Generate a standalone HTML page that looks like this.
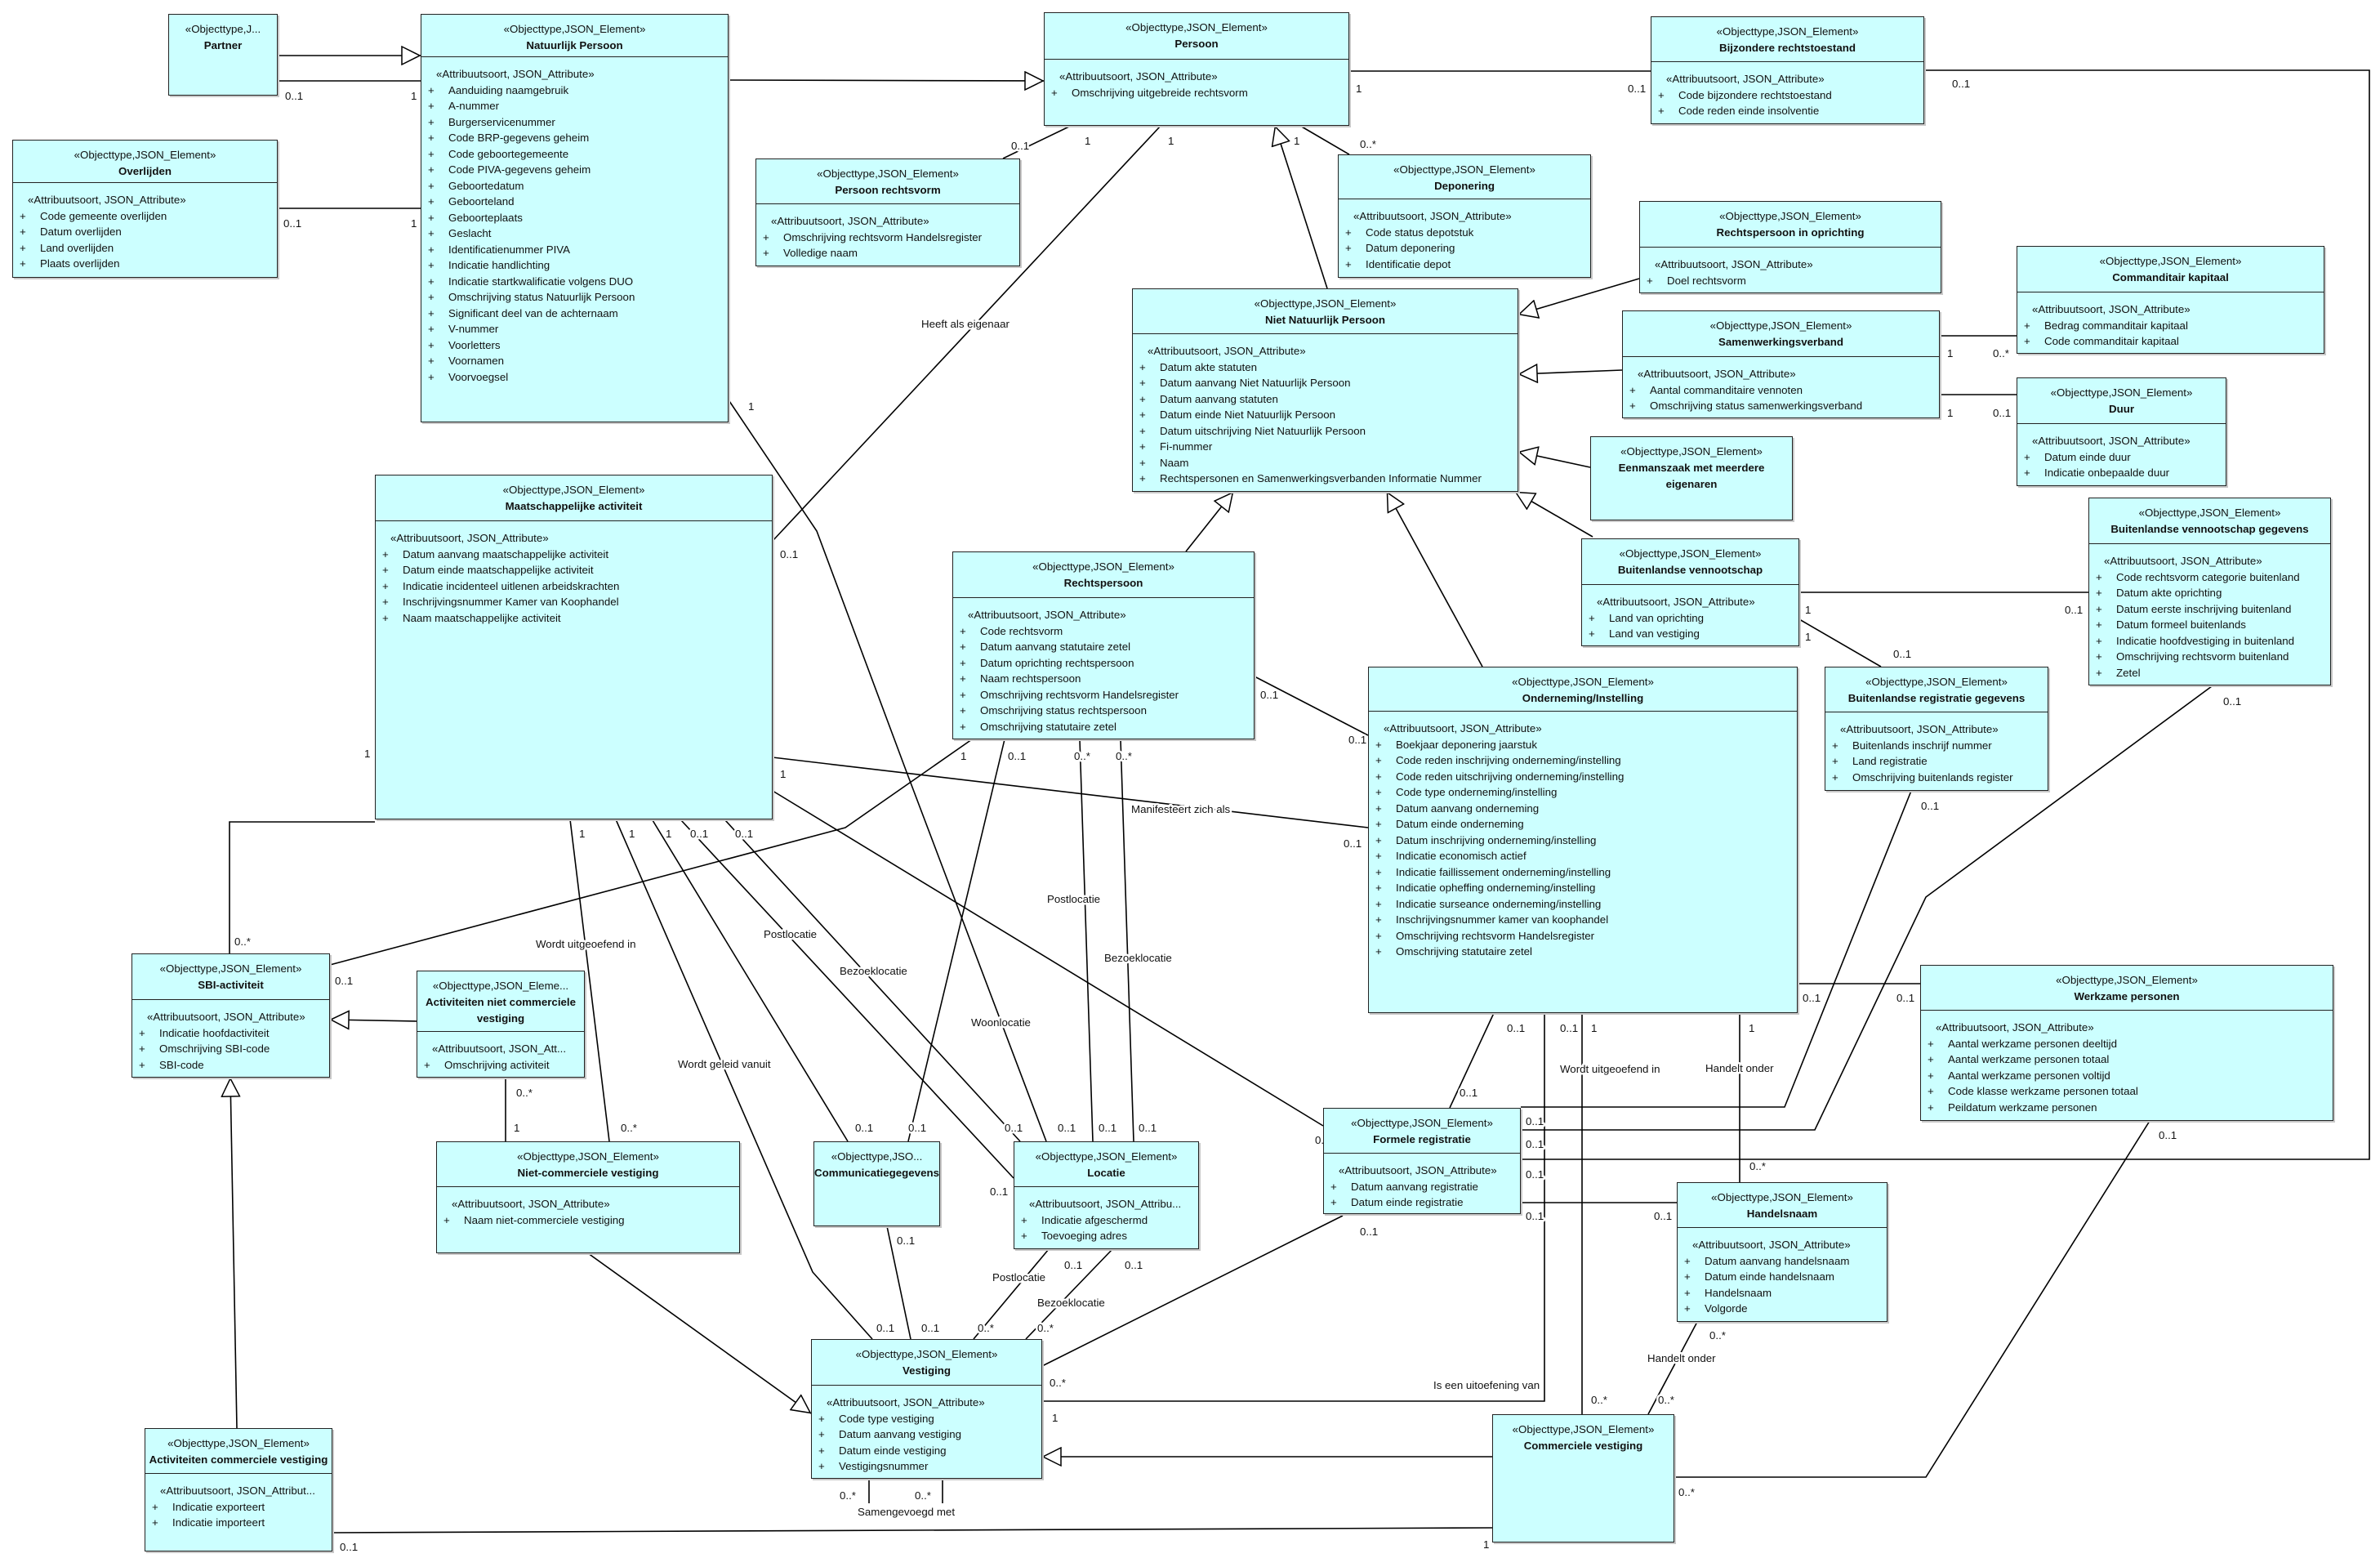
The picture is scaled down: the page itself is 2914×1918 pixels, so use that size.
<!DOCTYPE html>
<html><head><meta charset="utf-8">
<style>
body{margin:0;background:#fff;}
#c{position:relative;width:2914px;height:1918px;overflow:hidden;background:#fff;font-family:"Liberation Sans",sans-serif;font-size:13.3px;color:#111;}
svg{position:absolute;left:0;top:0;}
.b{position:absolute;background:#ccffff;border:1.5px solid #222;box-sizing:border-box;box-shadow:2px 2px 0 #c8c8c8;overflow:hidden;}
.h{border-bottom:1.5px solid #222;box-sizing:border-box;text-align:center;padding-top:8px;line-height:20px;white-space:nowrap;}
.h.nb{border-bottom:none;}
.n{font-weight:bold;}
.a{padding-top:11px;line-height:19.5px;white-space:nowrap;}
.s{padding-left:18px;}
.r{padding-left:33px;position:relative;}
.r:before{content:"+";position:absolute;left:8px;}
svg text{paint-order:stroke;stroke:#fff;stroke-width:5px;stroke-linejoin:round;}
</style></head><body><div id="c">
<svg width="2914" height="1918" viewBox="0 0 2914 1918">
<defs><marker id="g" viewBox="0 0 24 24" refX="24" refY="12" markerWidth="24" markerHeight="24" markerUnits="userSpaceOnUse" orient="auto"><path d="M1,1 L23,12 L1,23 z" fill="#fff" stroke="#000" stroke-width="1.5"/></marker></defs>
<g fill="none" stroke="#000" stroke-width="1.6">
<line x1="340" y1="68" x2="515" y2="68" marker-end="url(#g)"/>
<line x1="892" y1="98" x2="1278" y2="99" marker-end="url(#g)"/>
<line x1="1625" y1="353" x2="1561" y2="154" marker-end="url(#g)"/>
<line x1="2007" y1="341" x2="1859" y2="385" marker-end="url(#g)"/>
<line x1="1986" y1="453" x2="1859" y2="458" marker-end="url(#g)"/>
<line x1="1947" y1="572" x2="1859" y2="553" marker-end="url(#g)"/>
<line x1="1950" y1="657" x2="1855" y2="602" marker-end="url(#g)"/>
<line x1="1452" y1="675" x2="1510" y2="602" marker-end="url(#g)"/>
<line x1="1815" y1="816" x2="1698" y2="602" marker-end="url(#g)"/>
<line x1="720" y1="1534" x2="993" y2="1730" marker-end="url(#g)"/>
<line x1="290" y1="1748" x2="282" y2="1319" marker-end="url(#g)"/>
<line x1="510" y1="1250" x2="404" y2="1248" marker-end="url(#g)"/>
<line x1="1827" y1="1783" x2="1276" y2="1783" marker-end="url(#g)"/>
<line x1="340" y1="99" x2="515" y2="99"/>
<line x1="340" y1="255" x2="515" y2="255"/>
<line x1="1652" y1="87" x2="2021" y2="87"/>
<polyline points="2356,86 2901,86 2901,1419 1862,1419"/>
<line x1="1311" y1="154" x2="1228" y2="194"/>
<line x1="1421" y1="154" x2="946" y2="662"/>
<line x1="1592" y1="154" x2="1652" y2="189"/>
<line x1="2375" y1="411" x2="2469" y2="411"/>
<line x1="2375" y1="483" x2="2469" y2="483"/>
<line x1="2203" y1="725" x2="2557" y2="725"/>
<line x1="2203" y1="758" x2="2303" y2="816"/>
<line x1="1536" y1="828" x2="1675" y2="900"/>
<line x1="946" y1="927" x2="1675" y2="1013"/>
<polyline points="459,1006 281,1006 281,1167"/>
<polyline points="404,1181 1035,1013 1190,905"/>
<line x1="698" y1="1003" x2="746" y2="1397"/>
<polyline points="754,1003 995,1557 1068,1639"/>
<line x1="799" y1="1004" x2="1038" y2="1397"/>
<line x1="834" y1="1004" x2="1241" y2="1442"/>
<line x1="888" y1="1004" x2="1249" y2="1397"/>
<line x1="946" y1="968" x2="1620" y2="1378"/>
<line x1="1230" y1="905" x2="1112" y2="1397"/>
<line x1="1322" y1="905" x2="1338" y2="1397"/>
<line x1="1372" y1="905" x2="1388" y2="1397"/>
<polyline points="893,491 1000,650 1110,945 1281,1397"/>
<line x1="1284" y1="1529" x2="1192" y2="1639"/>
<line x1="1362" y1="1529" x2="1256" y2="1639"/>
<line x1="1086" y1="1501" x2="1115" y2="1639"/>
<line x1="619" y1="1319" x2="619" y2="1397"/>
<line x1="1064" y1="1810" x2="1064" y2="1840"/>
<line x1="1154" y1="1810" x2="1154" y2="1840"/>
<line x1="407" y1="1876" x2="1827" y2="1870"/>
<line x1="1276" y1="1672" x2="1644" y2="1488"/>
<polyline points="1891,1240 1891,1715 1276,1715"/>
<line x1="1937" y1="1240" x2="1937" y2="1731"/>
<line x1="2130" y1="1240" x2="2130" y2="1447"/>
<line x1="1829" y1="1240" x2="1775" y2="1356"/>
<line x1="2078" y1="1618" x2="2018" y2="1731"/>
<polyline points="2050,1808 2358,1808 2632,1372"/>
<line x1="2201" y1="1204" x2="2351" y2="1204"/>
<polyline points="2340,968 2185,1355 1862,1355"/>
<polyline points="2708,840 2358,1098 2222,1383 1862,1383"/>
<line x1="1862" y1="1472" x2="2053" y2="1472"/>
</g>
<g font-family="Liberation Sans, sans-serif" font-size="13.3" fill="#111">
<text x="349" y="122">0..1</text><text x="503" y="122">1</text>
<text x="347" y="278">0..1</text><text x="503" y="278">1</text>
<text x="1660" y="113">1</text><text x="1993" y="113">0..1</text><text x="2390" y="107">0..1</text>
<text x="1238" y="183">0..1</text><text x="1328" y="177">1</text><text x="1430" y="177">1</text>
<text x="1584" y="177">1</text><text x="1665" y="181">0..*</text>
<text x="1128" y="401">Heeft als eigenaar</text><text x="955" y="683">0..1</text>
<text x="2384" y="437">1</text><text x="2440" y="437">0..*</text>
<text x="2384" y="510">1</text><text x="2440" y="510">0..1</text>
<text x="2210" y="751">1</text><text x="2528" y="751">0..1</text>
<text x="2210" y="784">1</text><text x="2318" y="805">0..1</text>
<text x="1543" y="855">0..1</text><text x="1651" y="910">0..1</text>
<text x="1385" y="995">Manifesteert zich als</text><text x="955" y="952">1</text><text x="1645" y="1037">0..1</text>
<text x="446" y="927">1</text><text x="287" y="1157">0..*</text>
<text x="410" y="1205">0..1</text><text x="1176" y="930">1</text>
<text x="709" y="1025">1</text><text x="770" y="1025">1</text><text x="815" y="1025">1</text><text x="845" y="1025">0..1</text><text x="900" y="1025">0..1</text>
<text x="656" y="1160">Wordt uitgeoefend in</text><text x="760" y="1385">0..*</text>
<text x="830" y="1307">Wordt geleid vanuit</text><text x="1073" y="1630">0..1</text>
<text x="1047" y="1385">0..1</text><text x="1112" y="1385">0..1</text>
<text x="1028" y="1193">Bezoeklocatie</text><text x="1212" y="1463">0..1</text>
<text x="935" y="1148">Postlocatie</text><text x="1230" y="1385">0..1</text>
<text x="1234" y="930">0..1</text><text x="1315" y="930">0..*</text><text x="1366" y="930">0..*</text>
<text x="1282" y="1105">Postlocatie</text><text x="1352" y="1177">Bezoeklocatie</text>
<text x="1295" y="1385">0..1</text><text x="1345" y="1385">0..1</text><text x="1394" y="1385">0..1</text>
<text x="1189" y="1256">Woonlocatie</text><text x="916" y="502">1</text>
<text x="1215" y="1568">Postlocatie</text><text x="1303" y="1553">0..1</text><text x="1197" y="1630">0..*</text>
<text x="1270" y="1599">Bezoeklocatie</text><text x="1377" y="1553">0..1</text><text x="1270" y="1630">0..*</text>
<text x="1098" y="1523">0..1</text><text x="1128" y="1630">0..1</text>
<text x="632" y="1342">0..*</text><text x="629" y="1385">1</text>
<text x="1028" y="1835">0..*</text><text x="1120" y="1835">0..*</text><text x="1050" y="1855">Samengevoegd met</text>
<text x="416" y="1898">0..1</text><text x="1816" y="1895">1</text>
<text x="1285" y="1697">0..*</text><text x="1665" y="1512">0..1</text>
<text x="1288" y="1740">1</text><text x="1755" y="1700">Is een uitoefening van</text>
<text x="1845" y="1263">0..1</text><text x="1910" y="1263">0..1</text><text x="1948" y="1263">1</text><text x="2141" y="1263">1</text>
<text x="1787" y="1342">0..1</text>
<text x="1910" y="1313">Wordt uitgeoefend in</text><text x="2088" y="1312">Handelt onder</text>
<text x="2142" y="1432">0..*</text><text x="1948" y="1718">0..*</text>
<text x="2017" y="1667">Handelt onder</text><text x="2093" y="1639">0..*</text><text x="2030" y="1718">0..*</text>
<text x="2055" y="1831">0..*</text><text x="2643" y="1394">0..1</text>
<text x="2207" y="1226">0..1</text><text x="2322" y="1226">0..1</text>
<text x="2352" y="991">0..1</text><text x="2722" y="863">0..1</text>
<text x="1868" y="1377">0..1</text><text x="1868" y="1405">0..1</text><text x="1868" y="1442">0..1</text><text x="1868" y="1493">0..1</text><text x="2025" y="1493">0..1</text>
<text x="1610" y="1400">0..1</text>
</g>
</svg>

<div class="b" style="left:206px;top:17px;width:134px;height:100px"><div class="h nb"><div>«Objecttype,J...</div><div class="n">Partner</div></div></div>

<div class="b" style="left:515px;top:17px;width:377px;height:500px"><div class="h" style="height:52px"><div>«Objecttype,JSON_Element»</div><div class="n">Natuurlijk Persoon</div></div><div class="a"><div class="s">«Attribuutsoort, JSON_Attribute»</div><div class="r">Aanduiding naamgebruik</div><div class="r">A-nummer</div><div class="r">Burgerservicenummer</div><div class="r">Code BRP-gegevens geheim</div><div class="r">Code geboortegemeente</div><div class="r">Code PIVA-gegevens geheim</div><div class="r">Geboortedatum</div><div class="r">Geboorteland</div><div class="r">Geboorteplaats</div><div class="r">Geslacht</div><div class="r">Identificatienummer PIVA</div><div class="r">Indicatie handlichting</div><div class="r">Indicatie startkwalificatie volgens DUO</div><div class="r">Omschrijving status Natuurlijk Persoon</div><div class="r">Significant deel van de achternaam</div><div class="r">V-nummer</div><div class="r">Voorletters</div><div class="r">Voornamen</div><div class="r">Voorvoegsel</div></div></div>

<div class="b" style="left:15px;top:171px;width:325px;height:169px"><div class="h" style="height:52px"><div>«Objecttype,JSON_Element»</div><div class="n">Overlijden</div></div><div class="a"><div class="s">«Attribuutsoort, JSON_Attribute»</div><div class="r">Code gemeente overlijden</div><div class="r">Datum overlijden</div><div class="r">Land overlijden</div><div class="r">Plaats overlijden</div></div></div>

<div class="b" style="left:1278px;top:15px;width:374px;height:139px"><div class="h" style="height:57px"><div>«Objecttype,JSON_Element»</div><div class="n">Persoon</div></div><div class="a"><div class="s">«Attribuutsoort, JSON_Attribute»</div><div class="r">Omschrijving uitgebreide rechtsvorm</div></div></div>

<div class="b" style="left:2021px;top:20px;width:335px;height:132px"><div class="h" style="height:55px"><div>«Objecttype,JSON_Element»</div><div class="n">Bijzondere rechtstoestand</div></div><div class="a"><div class="s">«Attribuutsoort, JSON_Attribute»</div><div class="r">Code bijzondere rechtstoestand</div><div class="r">Code reden einde insolventie</div></div></div>

<div class="b" style="left:925px;top:194px;width:324px;height:132px"><div class="h" style="height:55px"><div>«Objecttype,JSON_Element»</div><div class="n">Persoon rechtsvorm</div></div><div class="a"><div class="s">«Attribuutsoort, JSON_Attribute»</div><div class="r">Omschrijving rechtsvorm Handelsregister</div><div class="r">Volledige naam</div></div></div>

<div class="b" style="left:1638px;top:189px;width:310px;height:151px"><div class="h" style="height:54px"><div>«Objecttype,JSON_Element»</div><div class="n">Deponering</div></div><div class="a"><div class="s">«Attribuutsoort, JSON_Attribute»</div><div class="r">Code status depotstuk</div><div class="r">Datum deponering</div><div class="r">Identificatie depot</div></div></div>

<div class="b" style="left:1386px;top:353px;width:473px;height:249px"><div class="h" style="height:55px"><div>«Objecttype,JSON_Element»</div><div class="n">Niet Natuurlijk Persoon</div></div><div class="a"><div class="s">«Attribuutsoort, JSON_Attribute»</div><div class="r">Datum akte statuten</div><div class="r">Datum aanvang Niet Natuurlijk Persoon</div><div class="r">Datum aanvang statuten</div><div class="r">Datum einde Niet Natuurlijk Persoon</div><div class="r">Datum uitschrijving Niet Natuurlijk Persoon</div><div class="r">Fi-nummer</div><div class="r">Naam</div><div class="r">Rechtspersonen en Samenwerkingsverbanden Informatie Nummer</div></div></div>

<div class="b" style="left:2007px;top:246px;width:370px;height:113px"><div class="h" style="height:56px"><div>«Objecttype,JSON_Element»</div><div class="n">Rechtspersoon in oprichting</div></div><div class="a"><div class="s">«Attribuutsoort, JSON_Attribute»</div><div class="r">Doel rechtsvorm</div></div></div>

<div class="b" style="left:1986px;top:380px;width:389px;height:132px"><div class="h" style="height:56px"><div>«Objecttype,JSON_Element»</div><div class="n">Samenwerkingsverband</div></div><div class="a"><div class="s">«Attribuutsoort, JSON_Attribute»</div><div class="r">Aantal commanditaire vennoten</div><div class="r">Omschrijving status samenwerkingsverband</div></div></div>

<div class="b" style="left:2469px;top:301px;width:377px;height:132px"><div class="h" style="height:56px"><div>«Objecttype,JSON_Element»</div><div class="n">Commanditair kapitaal</div></div><div class="a"><div class="s">«Attribuutsoort, JSON_Attribute»</div><div class="r">Bedrag commanditair kapitaal</div><div class="r">Code commanditair kapitaal</div></div></div>

<div class="b" style="left:2469px;top:462px;width:257px;height:133px"><div class="h" style="height:56px"><div>«Objecttype,JSON_Element»</div><div class="n">Duur</div></div><div class="a"><div class="s">«Attribuutsoort, JSON_Attribute»</div><div class="r">Datum einde duur</div><div class="r">Indicatie onbepaalde duur</div></div></div>

<div class="b" style="left:1947px;top:534px;width:248px;height:103px"><div class="h nb"><div>«Objecttype,JSON_Element»</div><div class="n">Eenmanszaak met meerdere</div><div class="n">eigenaren</div></div></div>

<div class="b" style="left:1936px;top:659px;width:267px;height:132px"><div class="h" style="height:56px"><div>«Objecttype,JSON_Element»</div><div class="n">Buitenlandse vennootschap</div></div><div class="a"><div class="s">«Attribuutsoort, JSON_Attribute»</div><div class="r">Land van oprichting</div><div class="r">Land van vestiging</div></div></div>

<div class="b" style="left:2557px;top:609px;width:297px;height:230px"><div class="h" style="height:56px"><div>«Objecttype,JSON_Element»</div><div class="n">Buitenlandse vennootschap gegevens</div></div><div class="a"><div class="s">«Attribuutsoort, JSON_Attribute»</div><div class="r">Code rechtsvorm categorie buitenland</div><div class="r">Datum akte oprichting</div><div class="r">Datum eerste inschrijving buitenland</div><div class="r">Datum formeel buitenlands</div><div class="r">Indicatie hoofdvestiging in buitenland</div><div class="r">Omschrijving rechtsvorm buitenland</div><div class="r">Zetel</div></div></div>

<div class="b" style="left:2234px;top:816px;width:274px;height:152px"><div class="h" style="height:55px"><div>«Objecttype,JSON_Element»</div><div class="n">Buitenlandse registratie gegevens</div></div><div class="a"><div class="s">«Attribuutsoort, JSON_Attribute»</div><div class="r">Buitenlands inschrijf nummer</div><div class="r">Land registratie</div><div class="r">Omschrijving buitenlands register</div></div></div>

<div class="b" style="left:459px;top:581px;width:487px;height:422px"><div class="h" style="height:56px"><div>«Objecttype,JSON_Element»</div><div class="n">Maatschappelijke activiteit</div></div><div class="a"><div class="s">«Attribuutsoort, JSON_Attribute»</div><div class="r">Datum aanvang maatschappelijke activiteit</div><div class="r">Datum einde maatschappelijke activiteit</div><div class="r">Indicatie incidenteel uitlenen arbeidskrachten</div><div class="r">Inschrijvingsnummer Kamer van Koophandel</div><div class="r">Naam maatschappelijke activiteit</div></div></div>

<div class="b" style="left:1166px;top:675px;width:370px;height:230px"><div class="h" style="height:56px"><div>«Objecttype,JSON_Element»</div><div class="n">Rechtspersoon</div></div><div class="a"><div class="s">«Attribuutsoort, JSON_Attribute»</div><div class="r">Code rechtsvorm</div><div class="r">Datum aanvang statutaire zetel</div><div class="r">Datum oprichting rechtspersoon</div><div class="r">Naam rechtspersoon</div><div class="r">Omschrijving rechtsvorm Handelsregister</div><div class="r">Omschrijving status rechtspersoon</div><div class="r">Omschrijving statutaire zetel</div></div></div>

<div class="b" style="left:1675px;top:816px;width:526px;height:424px"><div class="h" style="height:54px"><div>«Objecttype,JSON_Element»</div><div class="n">Onderneming/Instelling</div></div><div class="a"><div class="s">«Attribuutsoort, JSON_Attribute»</div><div class="r">Boekjaar deponering jaarstuk</div><div class="r">Code reden inschrijving onderneming/instelling</div><div class="r">Code reden uitschrijving onderneming/instelling</div><div class="r">Code type onderneming/instelling</div><div class="r">Datum aanvang onderneming</div><div class="r">Datum einde onderneming</div><div class="r">Datum inschrijving onderneming/instelling</div><div class="r">Indicatie economisch actief</div><div class="r">Indicatie faillissement onderneming/instelling</div><div class="r">Indicatie opheffing onderneming/instelling</div><div class="r">Indicatie surseance onderneming/instelling</div><div class="r">Inschrijvingsnummer kamer van koophandel</div><div class="r">Omschrijving rechtsvorm Handelsregister</div><div class="r">Omschrijving statutaire zetel</div></div></div>

<div class="b" style="left:2351px;top:1181px;width:506px;height:191px"><div class="h" style="height:55px"><div>«Objecttype,JSON_Element»</div><div class="n">Werkzame personen</div></div><div class="a"><div class="s">«Attribuutsoort, JSON_Attribute»</div><div class="r">Aantal werkzame personen deeltijd</div><div class="r">Aantal werkzame personen totaal</div><div class="r">Aantal werkzame personen voltijd</div><div class="r">Code klasse werkzame personen totaal</div><div class="r">Peildatum werkzame personen</div></div></div>

<div class="b" style="left:161px;top:1167px;width:243px;height:152px"><div class="h" style="height:56px"><div>«Objecttype,JSON_Element»</div><div class="n">SBI-activiteit</div></div><div class="a"><div class="s">«Attribuutsoort, JSON_Attribute»</div><div class="r">Indicatie hoofdactiviteit</div><div class="r">Omschrijving SBI-code</div><div class="r">SBI-code</div></div></div>

<div class="b" style="left:510px;top:1188px;width:206px;height:131px"><div class="h" style="height:74px"><div>«Objecttype,JSON_Eleme...</div><div class="n">Activiteiten niet commerciele</div><div class="n">vestiging</div></div><div class="a"><div class="s">«Attribuutsoort, JSON_Att...</div><div class="r">Omschrijving activiteit</div></div></div>

<div class="b" style="left:534px;top:1397px;width:372px;height:137px"><div class="h" style="height:55px"><div>«Objecttype,JSON_Element»</div><div class="n">Niet-commerciele vestiging</div></div><div class="a"><div class="s">«Attribuutsoort, JSON_Attribute»</div><div class="r">Naam niet-commerciele vestiging</div></div></div>

<div class="b" style="left:996px;top:1397px;width:155px;height:104px"><div class="h nb"><div>«Objecttype,JSO...</div><div class="n">Communicatiegegevens</div></div></div>

<div class="b" style="left:1241px;top:1397px;width:227px;height:132px"><div class="h" style="height:55px"><div>«Objecttype,JSON_Element»</div><div class="n">Locatie</div></div><div class="a"><div class="s">«Attribuutsoort, JSON_Attribu...</div><div class="r">Indicatie afgeschermd</div><div class="r">Toevoeging adres</div></div></div>

<div class="b" style="left:1620px;top:1356px;width:242px;height:130px"><div class="h" style="height:55px"><div>«Objecttype,JSON_Element»</div><div class="n">Formele registratie</div></div><div class="a"><div class="s">«Attribuutsoort, JSON_Attribute»</div><div class="r">Datum aanvang registratie</div><div class="r">Datum einde registratie</div></div></div>

<div class="b" style="left:2053px;top:1447px;width:258px;height:171px"><div class="h" style="height:55px"><div>«Objecttype,JSON_Element»</div><div class="n">Handelsnaam</div></div><div class="a"><div class="s">«Attribuutsoort, JSON_Attribute»</div><div class="r">Datum aanvang handelsnaam</div><div class="r">Datum einde handelsnaam</div><div class="r">Handelsnaam</div><div class="r">Volgorde</div></div></div>

<div class="b" style="left:993px;top:1639px;width:283px;height:171px"><div class="h" style="height:56px"><div>«Objecttype,JSON_Element»</div><div class="n">Vestiging</div></div><div class="a"><div class="s">«Attribuutsoort, JSON_Attribute»</div><div class="r">Code type vestiging</div><div class="r">Datum aanvang vestiging</div><div class="r">Datum einde vestiging</div><div class="r">Vestigingsnummer</div></div></div>

<div class="b" style="left:177px;top:1748px;width:230px;height:151px"><div class="h" style="height:55px"><div>«Objecttype,JSON_Element»</div><div class="n">Activiteiten commerciele vestiging</div></div><div class="a"><div class="s">«Attribuutsoort, JSON_Attribut...</div><div class="r">Indicatie exporteert</div><div class="r">Indicatie importeert</div></div></div>

<div class="b" style="left:1827px;top:1731px;width:223px;height:157px"><div class="h nb"><div>«Objecttype,JSON_Element»</div><div class="n">Commerciele vestiging</div></div></div>

</div></body></html>
